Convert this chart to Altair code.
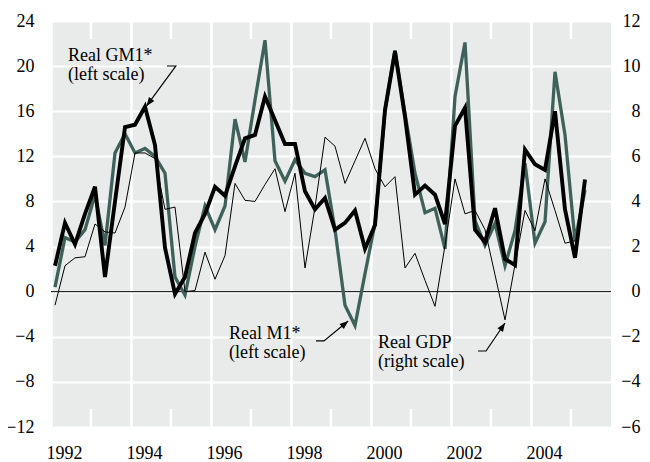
import altair as alt
import pandas as pd

# ---------------- data (quarterly, 1992Q1 onward) ----------------
start_year = 1992

# Real GM1*, % (left scale)
gm1 = [2.3, 6.1, 4.2, 6.9, 9.3, 1.3, 8.0, 14.6, 14.8, 16.4,
       13.0, 3.9, -0.2, 1.3, 5.2, 6.9, 9.3, 8.5, 11.1, 13.6,
       13.9, 17.3, 15.2, 13.1, 13.1, 8.9, 7.3, 8.3, 5.5, 6.1,
       7.2, 3.8, 5.9, 16.1, 21.3, 15.5, 8.6, 9.4, 8.6, 6.0,
       14.7, 16.3, 5.5, 4.4, 7.4, 2.9, 2.35, 12.6, 11.3, 10.8,
       16.0, 7.3, 3.0, 9.95]

# Real M1*, % (left scale)
m1 = [0.4, 4.8, 4.4, 5.5, 8.6, 4.1, 12.3, 14.0, 12.3, 12.7,
      12.0, 10.5, 1.3, -0.3, 4.0, 7.6, 5.5, 7.6, 15.3, 11.5,
      17.0, 22.3, 11.6, 9.8, 11.7, 10.5, 10.2, 10.8, 5.5, -1.2,
      -3.0, 1.6, 6.05, 16.1, 21.4, 15.8, 10.5, 7.0, 7.4, 3.8,
      17.3, 22.1, 6.3, 4.1, 6.05, 2.3, 5.4, 11.4, 4.3, 6.2,
      19.5, 13.9, 4.5, 9.0]

# Real GDP, % (right scale)
gdp = [-0.6, 1.15, 1.5, 1.55, 3.0, 2.65, 2.6, 3.75, 6.15, 6.15,
       5.9, 3.65, 3.75, 0.0, 0.05, 1.75, 0.55, 1.6, 4.8, 4.05,
       4.0, 4.75, 5.45, 3.55, 5.25, 1.05, 3.75, 6.85, 6.45, 4.8,
       5.8, 6.8, 5.45, 4.65, 5.1, 1.05, 1.7, 0.5, -0.65, 2.05,
       5.0, 3.45, 3.6, 2.75, 0.75, -1.25, 1.2, 3.6, 2.7, 5.0,
       3.6, 2.15, 2.25]

year_labels = [1992, 1994, 1996, 1998, 2000, 2002, 2004]
odd_years = [1993, 1995, 1997, 1999, 2001, 2003, 2005]
left_ticks = [-12, -8, -4, 0, 4, 8, 12, 16, 20, 24]
right_ticks = [-6, -4, -2, 0, 2, 4, 6, 8, 10, 12]

ann_labels = ["Real GM1*\n(left scale)", "Real M1*\n(left scale)", "Real GDP\n(right scale)"]
ann_t = [1992.425, 1996.45, 2000.175]
ann_v = [20.46, -4.19, -4.99]

# arrow paths (year, left-scale value)
arrow_group = ["a", "a", "a", "b", "b", "b", "c", "c", "c"]
arrow_t = [1994.9, 1995.12, 1994.39, 1998.625, 1998.825, 1999.43, 2002.675, 2002.875, 2003.35]
arrow_v = [20.01, 20.01, 16.47, -4.37, -4.37, -2.6, -5.26, -5.26, -2.78]
head_t = [1994.39, 1999.43, 2003.35]
head_v = [16.47, -2.6, -2.78]
head_angle = [216, 50, 34]

# ---------------- tables ----------------
def qpos(i):
    return start_year + i / 4 + 0.1

money = pd.DataFrame({"t": [qpos(i) for i in range(len(gm1))], "gm1": gm1, "m1": m1})
gdp_df = pd.DataFrame({"t": [qpos(i) for i in range(len(gdp))], "gdp": gdp})
ann_df = pd.DataFrame({"t": ann_t, "v": ann_v, "label": ann_labels})
arrow_df = pd.DataFrame({"g": arrow_group, "t": arrow_t, "v": arrow_v,
                         "o": list(range(len(arrow_t)))})
head_df = pd.DataFrame({"t": head_t, "v": head_v, "a": head_angle})
odd_df = pd.DataFrame({"t": odd_years})
zero_df = pd.DataFrame({"v": [0]})

FONT = "Liberation Serif"
BG = "#e8ebea"
TEAL = "#3e6259"

xscale = alt.Scale(domain=[1992, 2006], nice=False, zero=False)
xaxis = alt.Axis(values=year_labels, format="d", grid=True, gridColor="white",
                 gridWidth=2.5, gridOpacity=1, ticks=False, domain=False,
                 labelOffset=13, labelPadding=17, labelFlush=False, title=None)
X = lambda f="t": alt.X(f"{f}:Q", scale=xscale, axis=xaxis)

yl_scale = alt.Scale(domain=[-12, 24], nice=False, zero=False)
yl_axis = alt.Axis(values=left_ticks, grid=True, gridColor="white", gridWidth=2,
                   gridOpacity=1, ticks=False, domain=False, labelPadding=17,
                   orient="left", title=None)
YL = lambda f: alt.Y(f"{f}:Q", scale=yl_scale, axis=yl_axis)
YL2 = lambda f: alt.Y(f"{f}:Q", scale=yl_scale, axis=None)

yr_scale = alt.Scale(domain=[-6, 12], nice=False, zero=False)
yr_axis = alt.Axis(values=right_ticks, grid=False, ticks=False, domain=False,
                   labelPadding=29, labelAlign="right", orient="right", title=None)

top_ticks = alt.Chart(odd_df).mark_rule(color="white", strokeWidth=2.5).encode(
    x=X(), y=alt.value(0), y2=alt.value(18))
bot_ticks = alt.Chart(odd_df).mark_rule(color="white", strokeWidth=2.5).encode(
    x=X(), y=alt.value(388), y2=alt.value(406))
zero = alt.Chart(zero_df).mark_rule(color="black", strokeWidth=1).encode(y=YL("v"))

m1_line = alt.Chart(money).mark_line(color=TEAL, strokeWidth=3.3).encode(x=X(), y=YL("m1"))

gdp_line = alt.Chart(gdp_df).mark_line(color="black", strokeWidth=1).encode(
    x=X(), y=alt.Y("gdp:Q", scale=yr_scale, axis=yr_axis))

gm1_line = alt.Chart(money).mark_line(color="black", strokeWidth=3.9).encode(x=X(), y=YL2("gm1"))
texts = alt.Chart(ann_df).mark_text(align="left", baseline="alphabetic", font=FONT,
                                    fontSize=18, lineBreak="\n", lineHeight=19,
                                    color="black").encode(x=X(), y=YL2("v"), text="label:N")
arrows = alt.Chart(arrow_df).mark_line(color="black", strokeWidth=1.2).encode(
    x=X(), y=YL2("v"), detail="g:N", order="o:Q")
heads = alt.Chart(head_df).mark_point(shape="M0,0L-0.7,1.8L0.7,1.8Z", filled=True,
                                      size=90, color="black", opacity=1).encode(
    x=X(), y=YL2("v"), angle=alt.Angle("a:Q", scale=None))

bottom = alt.layer(top_ticks, bot_ticks, zero, m1_line)
top = alt.layer(gm1_line, texts, arrows, heads)

chart = alt.layer(bottom, gdp_line, top).resolve_scale(y="independent").properties(
    width=560, height=406,
    autosize=alt.AutoSizeParams(type="none"),
    padding={"left": 43, "top": 13, "right": 31, "bottom": 36},
).configure(font=FONT).configure_view(fill=BG, stroke=None).configure_axis(
    labelFont=FONT, labelFontSize=18, labelColor="black"
)

chart.save("out.html", embed_options={"renderer": "svg", "actions": False})
